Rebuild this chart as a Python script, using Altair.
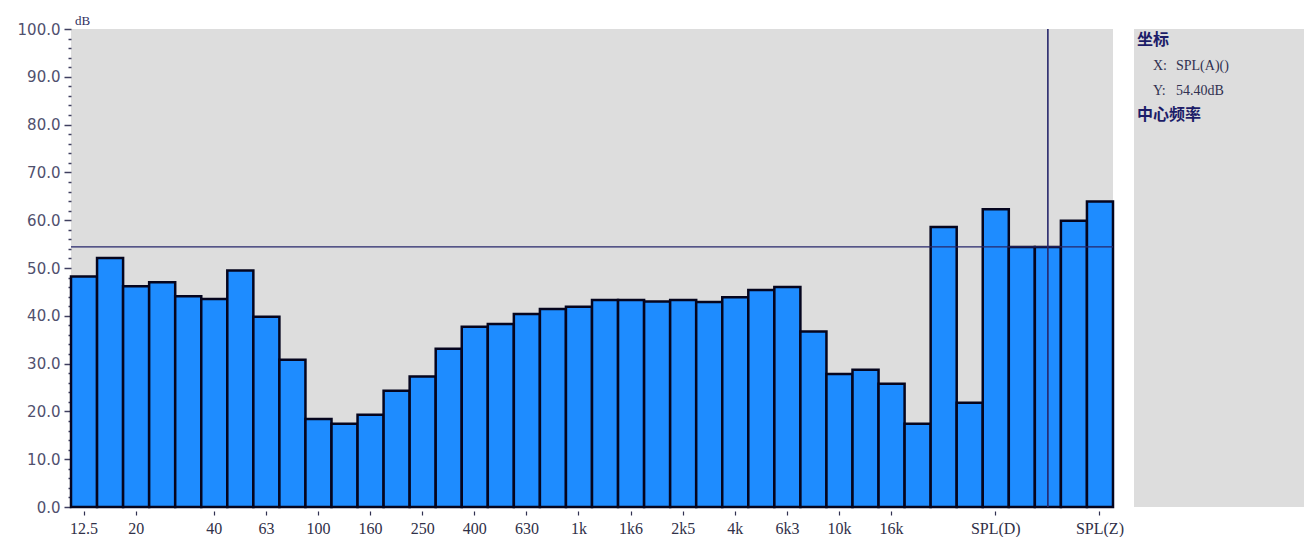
import altair as alt
import pandas as pd

# 1/3-octave centre frequencies + weighted totals
bands = ["12.5", "16", "20", "25", "31.5", "40", "50", "63", "80", "100",
         "125", "160", "200", "250", "315", "400", "500", "630", "800", "1k",
         "1k25", "1k6", "2k", "2k5", "3k15", "4k", "5k", "6k3", "8k", "10k",
         "12k5", "16k", "20k", "SPL(B)", "SPL(C)", "SPL(D)", "SPL(L)", "SPL(A)",
         "SPL(F)", "SPL(Z)"]
levels = [48.2, 52.1, 46.2, 47.0, 44.1, 43.5, 49.5, 39.8, 30.8, 18.4,
          17.4, 19.3, 24.3, 27.3, 33.1, 37.7, 38.3, 40.4, 41.4, 41.9,
          43.3, 43.3, 43.0, 43.3, 42.9, 43.9, 45.4, 46.0, 36.7, 27.8,
          28.7, 25.8, 17.4, 58.6, 21.8, 62.3, 54.4, 54.4, 59.9, 63.9]
tick_labels = ["12.5", "20", "40", "63", "100", "160", "250", "400", "630",
               "1k", "1k6", "2k5", "4k", "6k3", "10k", "16k", "SPL(D)", "SPL(Z)"]
y_ticks = list(range(0, 101, 2))

cursor_band = ["SPL(A)"]
cursor_level = [54.4]

panel_title = "坐标"
panel_x_label = "X:"
panel_x_value = "SPL(A)()"
panel_y_label = "Y:"
panel_y_value = "54.40dB"
panel_footer = "中心频率"
unit_label = "dB"

W, H = 1042, 478

df = pd.DataFrame({"band": bands, "level": levels})
xscale = alt.Scale(domain=bands, paddingInner=0, paddingOuter=0)
yscale = alt.Scale(domain=[0, 100], nice=False, zero=True)

x_enc = alt.X("band:N", scale=xscale, sort=None, title=None,
              axis=alt.Axis(values=tick_labels, labelAngle=0, domain=False,
                            tickSize=4, tickColor="#303050", tickWidth=1.2,
                            offset=4, labelPadding=5, labelOverlap=False,
                            labelFont="Liberation Serif", labelFontSize=16,
                            labelColor="#303048"))
y_enc = alt.Y("level:Q", scale=yscale, title=None,
              axis=alt.Axis(values=y_ticks, tickCount=200, domain=False, grid=False,
                            labelOverlap=False,
                            labelExpr="datum.value % 10 === 0 ? format(datum.value, '.1f') : ''",
                            tickSize={"condition": {"test": "datum.value % 10 === 0", "value": 7},
                                      "value": 3},
                            tickColor="#404060", tickWidth=1.5, labelPadding=4,
                            labelFont="DejaVu Sans", labelFontSize=15,
                            labelColor="#50506e"))

bars = alt.Chart(df).mark_bar(color="#1E8CFF", stroke="#05051e",
                              strokeWidth=2.5).encode(x=x_enc, y=y_enc)

hline = alt.Chart(pd.DataFrame({"level": cursor_level})).mark_rule(
    color="#26266a", strokeWidth=1.3).encode(y=alt.Y("level:Q", scale=yscale))

vline = alt.Chart(pd.DataFrame({"band": cursor_band})).mark_rule(
    color="#26266a", strokeWidth=1.6).encode(
    x=alt.X("band:N", scale=xscale, sort=None),
    y=alt.value(0), y2=alt.value(H))

one = pd.DataFrame({"k": [0]})

panel = alt.Chart(one).mark_rect(color="#dddddd").encode(
    x=alt.value(1063), x2=alt.value(1233), y=alt.value(0), y2=alt.value(H))


def txt(s, x, y, size, color, font, align="left", weight="normal"):
    return alt.Chart(one).mark_text(text=s, align=align, baseline="middle",
                                    fontSize=size, color=color, font=font,
                                    fontWeight=weight).encode(
        x=alt.value(x), y=alt.value(y))


texts = [
    txt(panel_title, 1066, 11, 16, "#1c1c68", "Noto Sans CJK SC", weight="bold"),
    txt(panel_x_label, 1082, 37, 14, "#303050", "Liberation Serif"),
    txt(panel_x_value, 1105, 37, 14, "#303050", "Liberation Serif"),
    txt(panel_y_label, 1082, 62, 14, "#303050", "Liberation Serif"),
    txt(panel_y_value, 1105, 62, 14, "#303050", "Liberation Serif"),
    txt(panel_footer, 1066, 86, 16, "#1c1c68", "Noto Sans CJK SC", weight="bold"),
    txt(unit_label, 4, -8, 13, "#303060", "Liberation Serif"),
]

chart = alt.layer(bars, hline, vline, panel, *texts).properties(
    width=W, height=H,
    autosize=alt.AutoSizeParams(type="none"),
    padding={"left": 63, "top": 21, "right": 191, "bottom": 30},
    background="white",
).configure_view(fill="#dddddd", strokeWidth=0)

chart.save("out.html", embed_options={"renderer": "svg", "actions": False})
